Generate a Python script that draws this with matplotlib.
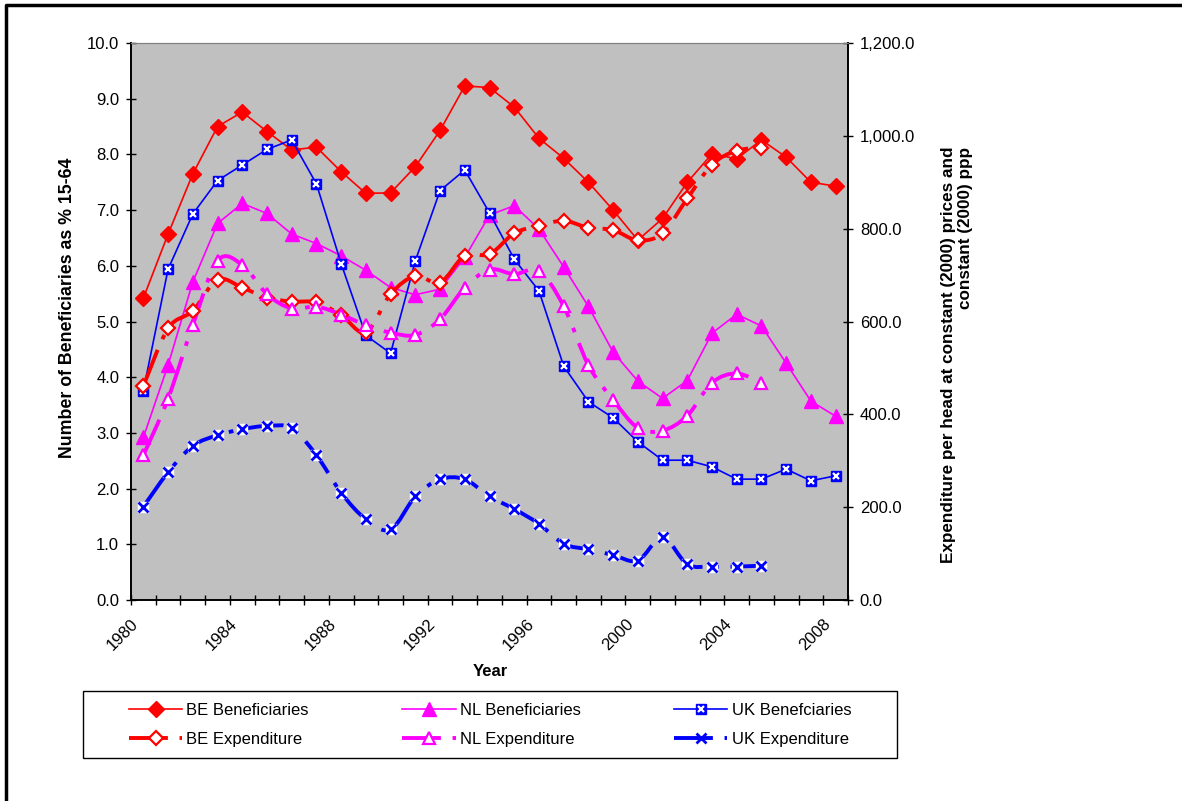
import numpy as np
import matplotlib
matplotlib.use('Agg')
import matplotlib.pyplot as plt
from matplotlib.path import Path
from matplotlib.patches import PathPatch, Rectangle
from matplotlib.lines import Line2D
from matplotlib.legend_handler import HandlerTuple
from matplotlib.ticker import FuncFormatter

plt.rcParams['font.family'] = ['Liberation Sans', 'DejaVu Sans']

## data ##
years = list(range(1980, 2009))
be_ben = [5.42, 6.57, 7.65, 8.50, 8.76, 8.41, 8.08, 8.13, 7.69, 7.30, 7.31, 7.78, 8.43, 9.23,
          9.20, 8.85, 8.29, 7.93, 7.50, 7.00, 6.46, 6.85, 7.50, 8.01, 7.92, 8.26, 7.95, 7.50, 7.43]
nl_ben = [2.92, 4.22, 5.71, 6.76, 7.12, 6.94, 6.57, 6.40, 6.18, 5.92, 5.61, 5.48, 5.58, 6.15,
          6.91, 7.08, 6.66, 5.98, 5.27, 4.45, 3.93, 3.62, 3.94, 4.79, 5.13, 4.92, 4.25, 3.57, 3.30]
uk_ben = [3.76, 5.94, 6.93, 7.53, 7.81, 8.09, 8.26, 7.47, 6.04, 4.75, 4.43, 6.09, 7.35, 7.72,
          6.95, 6.12, 5.55, 4.20, 3.56, 3.27, 2.84, 2.51, 2.51, 2.39, 2.17, 2.17, 2.35, 2.14, 2.23]

exp_years = list(range(1980, 2006))
be_exp = [461, 585, 623, 690, 673, 651, 643, 641, 614, 577, 659, 698, 684, 742, 745, 790,
          806, 817, 802, 797, 775, 790, 865, 938, 968, 974]
nl_exp = [312, 434, 592, 731, 722, 659, 628, 632, 615, 592, 576, 571, 605, 673, 712, 702,
          709, 633, 506, 431, 371, 365, 397, 468, 488, 467]
uk_exp = [201, 275, 332, 355, 368, 375, 370, 312, 231, 174, 152, 223, 260, 260, 223, 196,
          164, 121, 109, 97, 85, 135, 77, 72, 72, 74]

RED = '#FF0000'
MAG = '#FF00FF'
BLUE = '#0000FF'
DASH = (0, (10, 3, 1.2, 3))
FS = 12


def smooth_path(x, y):
    # bezier through the points, like excel's "smoothed line"
    x = np.asarray(x, float)
    y = np.asarray(y, float)
    n = len(x)
    verts = [(x[0], y[0])]
    codes = [Path.MOVETO]
    for i in range(n - 1):
        xa, ya = (x[i-1], y[i-1]) if i > 0 else (x[i], y[i])
        xd, yd = (x[i+2], y[i+2]) if i + 2 < n else (x[i+1], y[i+1])
        c1 = (x[i] + (x[i+1] - xa) / 6, y[i] + (y[i+1] - ya) / 6)
        c2 = (x[i+1] - (xd - x[i]) / 6, y[i+1] - (yd - y[i]) / 6)
        verts += [c1, c2, (x[i+1], y[i+1])]
        codes += [Path.CURVE4] * 3
    return Path(verts, codes)


W, H = 1182, 801
fig = plt.figure(figsize=(W/100, H/100), dpi=100)
ax = fig.add_axes([131/W, 1-600/H, 717/W, 557/H])
ax2 = ax.twinx()

x_ben = np.arange(len(years)) + 0.5
x_exp = np.arange(len(exp_years)) + 0.5

ax.set_facecolor('#C0C0C0')

## beneficiaries on left axis ##
ax.plot(x_ben, be_ben, color=RED, lw=1.2, marker='D', ms=8.5, mfc=RED, mec=RED, zorder=3)
ax.plot(x_ben, nl_ben, color=MAG, lw=1.2, marker='^', ms=9.5, mfc=MAG, mec=MAG, zorder=3)
ax.plot(x_ben, uk_ben, color=BLUE, lw=1.2, zorder=3)
ax.plot(x_ben, uk_ben, ls='none', marker='s', ms=6.5, mfc=BLUE, mec=BLUE, zorder=4)
ax.plot(x_ben, uk_ben, ls='none', marker='x', ms=4.5, mec='white', mew=1.6, zorder=5)

## expenditure on right axis, smoothed dashed ##
for vals, col in [(be_exp, RED), (nl_exp, MAG), (uk_exp, BLUE)]:
    ax2.add_patch(PathPatch(smooth_path(x_exp, vals), fill=False, edgecolor=col,
                            lw=2.8, linestyle=DASH, capstyle='butt', zorder=3))
ax2.plot(x_exp, be_exp, ls='none', marker='D', ms=7.5, mfc='white', mec=RED, mew=1.6, zorder=4)
ax2.plot(x_exp, nl_exp, ls='none', marker='^', ms=9, mfc='white', mec=MAG, mew=1.6, zorder=4)
ax2.plot(x_exp, uk_exp, ls='none', marker='s', ms=7, mfc='white', mec='white', zorder=4)
ax2.plot(x_exp, uk_exp, ls='none', marker='x', ms=7, mec=BLUE, mew=2, zorder=5)

## axes ##
ax.set_xlim(0, len(years))
ax.set_ylim(0, 10)
ax2.set_ylim(0, 1200)
ax.set_yticks(np.arange(0, 10.1, 1))
ax2.set_yticks(np.arange(0, 1201, 200))
ax.yaxis.set_major_formatter(FuncFormatter(lambda v, p: '%.1f' % v))
ax2.yaxis.set_major_formatter(FuncFormatter(lambda v, p: '{:,.1f}'.format(v)))

tick_pos = np.arange(len(years) + 1)
tick_lab = [str(years[0] + k) if k % 4 == 0 else '' for k in tick_pos]
ax.set_xticks(tick_pos)
ax.set_xticklabels(tick_lab, rotation=45, ha='right', rotation_mode='anchor')

for a in (ax, ax2):
    a.tick_params(direction='inout', length=7, width=1, labelsize=FS, pad=5)
    a.spines['top'].set_color('#808080')
    for s in ('left', 'right', 'bottom'):
        a.spines[s].set_linewidth(1.2)
ax.tick_params(axis='x', pad=8)

ax.text(-0.088, 0.525, 'Number of Beneficiaries as % 15-64', transform=ax.transAxes,
        rotation=90, ha='center', va='center', fontsize=12.8, fontweight='bold')
ax.text(1.152, 0.44, 'Expenditure per head at constant (2000) prices and\nconstant (2000) ppp',
        transform=ax.transAxes, rotation=90, ha='center', va='center',
        multialignment='right', fontsize=12.3, fontweight='bold', linespacing=1.2)
fig.text(490/W, 1-672/H, 'Year', ha='center', va='center', fontsize=FS, fontweight='bold')

## legend ##
h_be_ben = Line2D([], [], color=RED, lw=1.2, marker='D', ms=8.5, mfc=RED, mec=RED)
h_nl_ben = Line2D([], [], color=MAG, lw=1.2, marker='^', ms=9.5, mfc=MAG, mec=MAG)
h_uk_ben = (Line2D([], [], color=BLUE, lw=1.2, marker='s', ms=6.5, mfc=BLUE, mec=BLUE),
            Line2D([], [], ls='none', marker='x', ms=4.5, mec='white', mew=1.6))
h_be_exp = Line2D([], [], color=RED, lw=2.8, ls=DASH, marker='D', ms=7.5, mfc='white', mec=RED, mew=1.6)
h_nl_exp = Line2D([], [], color=MAG, lw=2.8, ls=DASH, marker='^', ms=9, mfc='white', mec=MAG, mew=1.6)
h_uk_exp = Line2D([], [], color=BLUE, lw=2.8, ls=DASH, marker='x', ms=7, mec=BLUE, mew=2)

handles = [h_be_ben, h_be_exp, h_nl_ben, h_nl_exp, h_uk_ben, h_uk_exp]
labels = ['BE Beneficiaries', 'BE Expenditure', 'NL Beneficiaries', 'NL Expenditure',
          'UK Benefciaries', 'UK Expenditure']
fig.legend(handles, labels, ncol=3, loc='center left', bbox_to_anchor=(129/W, 1-725/H),
           frameon=False, fontsize=FS, handlelength=3.2, handletextpad=0.25,
           columnspacing=5.6, labelspacing=0.85, borderpad=0, borderaxespad=0,
           handler_map={tuple: HandlerTuple(ndivide=1)})
fig.add_artist(Rectangle((83/W, 1-758/H), (897-83)/W, 67/H, transform=fig.transFigure,
                         fill=False, edgecolor='black', lw=1))

## outer chart border (only top and left visible) ##
fig.add_artist(Line2D([6/W, 6/W, 1], [0, 1-5/H, 1-5/H], transform=fig.transFigure,
                      color='black', lw=2.5))

fig.savefig('out.png', dpi=100)
